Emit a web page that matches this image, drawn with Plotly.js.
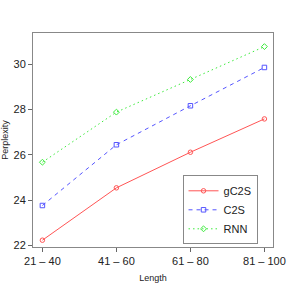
<!DOCTYPE html>
<html><head><meta charset="utf-8">
<script src="https://cdn.plot.ly/plotly-3.0.1.min.js"></script>
<style>html,body{margin:0;padding:0;background:#fff}</style>
</head><body>
<div id="chart" style="width:291px;height:291px"></div>
<script>
const categories = ["21 – 40", "41 – 60", "61 – 80", "81 – 100"];
const positions = [1, 2, 3, 4];
const gC2S = [22.23, 24.54, 26.11, 27.58];
const C2S = [23.76, 26.44, 28.16, 29.85];
const RNN = [25.67, 27.88, 29.32, 30.77];
const yTicks = [22, 24, 26, 28, 30];

const traces = [
  {name: "gC2S", y: gC2S, color: "rgb(255,85,85)", dash: "solid", symbol: "circle-open"},
  {name: "C2S", y: C2S, color: "rgb(85,85,255)", dash: "4px,4px", symbol: "square-open"},
  {name: "RNN", y: RNN, color: "rgb(60,235,60)", dash: "1.5px,3px", symbol: "diamond-open"}
].map(s => ({
  x: positions, y: s.y, name: s.name, type: "scatter", mode: "lines+markers",
  line: {color: s.color, width: 1, dash: s.dash},
  marker: {symbol: s.symbol, size: 4.5, color: s.color, line: {color: s.color, width: 1}}
}));

const axisCommon = {
  showline: true, mirror: true, linecolor: "#888", linewidth: 1,
  showgrid: false, zeroline: false, ticks: "outside", ticklen: 4,
  tickcolor: "#666", tickfont: {family: "Liberation Sans, Arial", size: 11, color: "#222"}
};

const layout = {
  width: 291, height: 291,
  margin: {l: 33, r: 18, t: 33, b: 44},
  paper_bgcolor: "#fff", plot_bgcolor: "#fff",
  showlegend: true,
  legend: {
    x: 0.623, y: 0.335, xanchor: "left", yanchor: "top",
    bordercolor: "#888", borderwidth: 1, bgcolor: "#fff",
    font: {family: "Liberation Sans, Arial", size: 11, color: "#222"},
    tracegroupgap: 0, itemwidth: 30
  },
  xaxis: Object.assign({}, axisCommon, {
    range: [0.873, 4.116], tickvals: positions, ticktext: categories,
    title: {text: "Length", font: {family: "Liberation Sans, Arial", size: 9, color: "#222"}, standoff: 8}
  }),
  yaxis: Object.assign({}, axisCommon, {
    range: [21.93, 31.37], tickvals: yTicks, ticktext: yTicks.map(String),
    title: {text: "Perplexity", font: {family: "Liberation Sans, Arial", size: 9, color: "#222"}, standoff: 4}
  })
};

Plotly.newPlot("chart", traces, layout, {displayModeBar: false, staticPlot: true});
</script>
</body></html>
